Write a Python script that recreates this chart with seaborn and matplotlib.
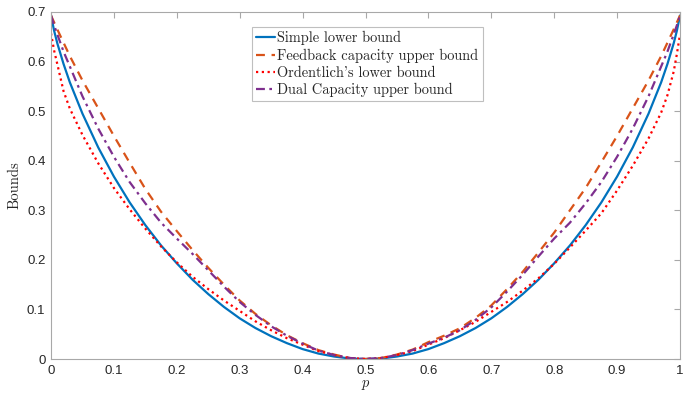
import matplotlib
matplotlib.use("Agg")
import matplotlib.pyplot as plt
import numpy as np
import seaborn as sns

# values
p = [0, 0.005, 0.01, 0.02, 0.03, 0.05, 0.075, 0.1, 0.125, 0.15, 0.175, 0.2,
     0.225, 0.25, 0.275, 0.3, 0.325, 0.35, 0.375, 0.4, 0.425, 0.45, 0.475,
     0.5, 0.525, 0.55, 0.575, 0.6, 0.625, 0.65, 0.675, 0.7, 0.725, 0.75,
     0.775, 0.8, 0.825, 0.85, 0.875, 0.9, 0.925, 0.95, 0.97, 0.98, 0.99,
     0.995, 1.0]

simple_lower = [0.693, 0.662, 0.637, 0.595, 0.558, 0.495, 0.427, 0.368, 0.316,
                0.270, 0.229, 0.193, 0.160, 0.131, 0.105, 0.082, 0.0625, 0.046,
                0.032, 0.020, 0.011, 0.005, 0.001, 0.000,
                0.001, 0.005, 0.011, 0.020, 0.032, 0.046, 0.0625, 0.082, 0.105,
                0.131, 0.160, 0.193, 0.229, 0.270, 0.316, 0.368, 0.427, 0.495,
                0.558, 0.595, 0.637, 0.662, 0.693]

feedback_upper = [0.693, 0.679, 0.665, 0.638, 0.611, 0.562, 0.506, 0.450, 0.396,
                  0.343, 0.297, 0.258, 0.220, 0.184, 0.150, 0.118, 0.091, 0.068,
                  0.048, 0.032, 0.018, 0.009, 0.002, 0.000,
                  0.002, 0.009, 0.019, 0.034, 0.047, 0.062, 0.083, 0.108, 0.141,
                  0.176, 0.215, 0.255, 0.300, 0.345, 0.397, 0.450, 0.506, 0.562,
                  0.611, 0.638, 0.665, 0.679, 0.693]

ordentlich_lower = [0.657, 0.622, 0.595, 0.540, 0.505, 0.452, 0.395, 0.345, 0.302,
                    0.263, 0.227, 0.195, 0.166, 0.141, 0.118, 0.097, 0.076, 0.058,
                    0.042, 0.029, 0.016, 0.008, 0.002, 0.000,
                    0.002, 0.008, 0.016, 0.029, 0.042, 0.058, 0.075, 0.095, 0.115,
                    0.138, 0.163, 0.192, 0.225, 0.259, 0.294, 0.340, 0.390, 0.445,
                    0.497, 0.532, 0.580, 0.615, 0.655]

dual_upper = [0.693, 0.673, 0.655, 0.620, 0.590, 0.530, 0.465, 0.408, 0.357,
              0.314, 0.275, 0.243, 0.212, 0.179, 0.146, 0.115, 0.089, 0.066,
              0.047, 0.031, 0.017, 0.008, 0.002, 0.000,
              0.002, 0.008, 0.018, 0.031, 0.043, 0.058, 0.079, 0.104, 0.136,
              0.170, 0.207, 0.243, 0.275, 0.314, 0.357, 0.408, 0.465, 0.530,
              0.590, 0.620, 0.655, 0.673, 0.693]

labels = ["Simple lower bound", "Feedback capacity upper bound",
          "Ordentlich's lower bound", "Dual Capacity upper bound"]

sns.set_style("white")
plt.rcParams["font.family"] = ["Liberation Sans", "DejaVu Sans"]
plt.rcParams["mathtext.fontset"] = "cm"

fig = plt.figure(figsize=(6.86, 3.97), dpi=100)
ax = fig.add_axes([51 / 686, 38 / 397, 629 / 686, 347 / 397])

series = [
    (simple_lower, "#0072BD", None),
    (feedback_upper, "#D95319", (4, 3)),
    (ordentlich_lower, "#FF0000", (1, 1.6)),
    (dual_upper, "#7E2F8E", (4, 2, 1.2, 2)),
]
for (vals, color, dash), label in zip(series, labels):
    sns.lineplot(x=p, y=vals, color=color, linewidth=1.6, label=label,
                 ax=ax, sort=False)
for ln, (vals, color, dash) in zip(ax.get_lines(), series):
    if dash is not None:
        ln.set_dashes(dash)

ax.set_xlim(0, 1)
ax.set_ylim(0, 0.7)
ax.set_xticks(np.arange(0, 1.01, 0.1))
ax.set_xticklabels(["0", "0.1", "0.2", "0.3", "0.4", "0.5", "0.6", "0.7",
                    "0.8", "0.9", "1"])
ax.set_yticks(np.arange(0, 0.71, 0.1))
ax.set_yticklabels(["0", "0.1", "0.2", "0.3", "0.4", "0.5", "0.6", "0.7"])
ax.tick_params(direction="in", length=4, width=0.8, colors="#a8a8a8",
               labelcolor="#262626", labelsize=9.5, top=True, right=True,
               pad=4)
for sp in ax.spines.values():
    sp.set_color("#a8a8a8")
    sp.set_linewidth(0.8)

ax.set_xlabel(r"$p$", fontsize=10.5, labelpad=1)
ax.set_ylabel("Bounds", family="cmr10", fontsize=10.5, labelpad=4)

leg = ax.legend(loc="upper left", bbox_to_anchor=(0.3195, 0.957),
                prop={"family": "cmr10", "size": 10.4}, frameon=True,
                fancybox=False, edgecolor="#b0b0b0", handlelength=1.3,
                handletextpad=0.15, labelspacing=0.22, borderpad=0.3,
                borderaxespad=0)
leg.get_frame().set_linewidth(0.8)

fig.savefig("out.png", dpi=100)
